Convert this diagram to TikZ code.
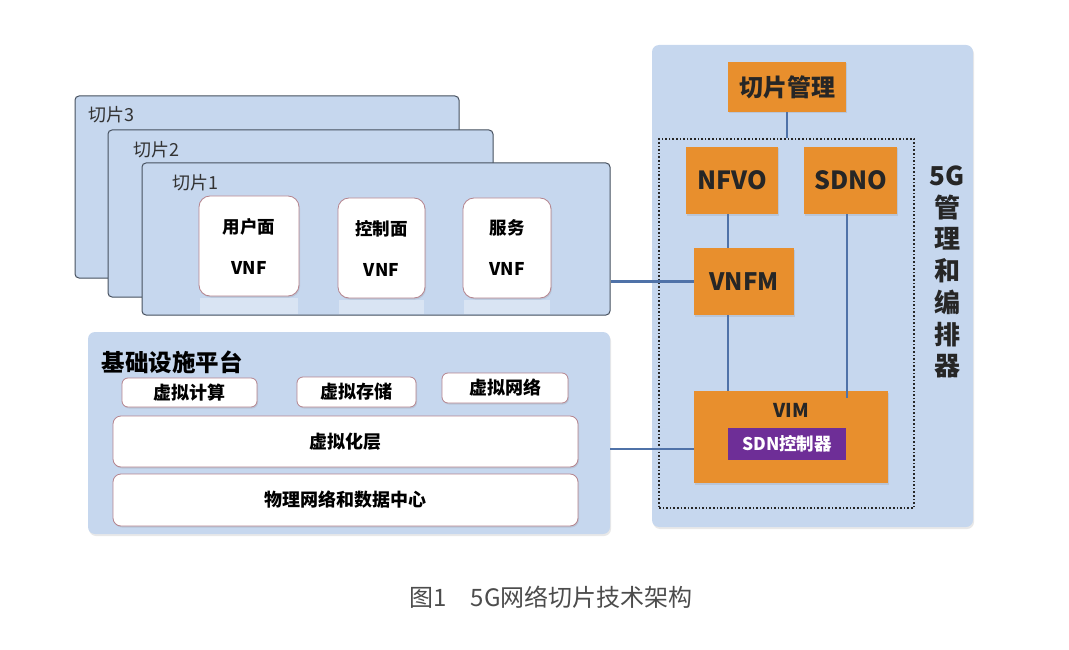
\documentclass[tikz,border=0pt]{standalone}
\usepackage{fontspec}
\setmainfont{Noto Sans CJK SC}
\usepackage{xcolor}
\usetikzlibrary{shadows}

\definecolor{panelblue}{HTML}{C6D7EE}
\definecolor{edgegray}{HTML}{46505E}
\definecolor{pinkedge}{HTML}{B5848E}
\definecolor{mgrorange}{HTML}{E88F2D}
\definecolor{sdnpurple}{HTML}{6E2E97}
\definecolor{linkblue}{HTML}{4F72A8}

\begin{document}
\begin{tikzpicture}[x=1pt, y=-1pt,
    slicebox/.style={draw=edgegray, line width=1pt, fill=panelblue, rounded corners=4pt, inner sep=0pt},
    slicelbl/.style={anchor=west, font=\fontsize{18}{20}\selectfont, text=black!80},
    panel/.style={fill=panelblue, rounded corners=7pt, inner sep=0pt,
        drop shadow={opacity=0.18, shadow xshift=1pt, shadow yshift=-2pt}},
    whitebox/.style={draw=pinkedge, line width=0.8pt, fill=white, rounded corners=6pt, inner sep=0pt,
        font=\bfseries\fontsize{18}{20}\selectfont,
        drop shadow={opacity=0.2, shadow xshift=1pt, shadow yshift=-1.5pt}},
    vnfbox/.style={whitebox, rounded corners=11pt, align=center,
        font=\bfseries\fontsize{17.5}{41}\selectfont},
    orangebox/.style={fill=mgrorange, inner sep=0pt, text=black!85,
        drop shadow={opacity=0.2, shadow xshift=1pt, shadow yshift=-1.5pt}},
    link/.style={draw=linkblue, line width=2.2pt}]

    \useasboundingbox (0,0) rectangle (1069,650);

    % 切片
    \node[slicebox, minimum width=384pt, minimum height=182pt] (slice3) at (267,187) {};
    \node[slicelbl] (slice3lbl) at (85,115) {切片3};
    \node[slicebox, minimum width=385pt, minimum height=167pt] (slice2) at (300.5,213.5) {};
    \node[slicelbl] (slice2lbl) at (130,150) {切片2};
    \node[slicebox, minimum width=468pt, minimum height=152pt] (slice1) at (376,239) {};
    \node[slicelbl] (slice1lbl) at (169,183) {切片1};

    % 倒影
    \fill[white, opacity=0.35] (200,298) rectangle (298,314);
    \fill[white, opacity=0.35] (339,300) rectangle (424,314);
    \fill[white, opacity=0.35] (464,300) rectangle (550,314);

    \node[vnfbox, minimum width=100pt, minimum height=100pt] (vnfuser) at (249,246) {用户面\\VNF};
    \node[vnfbox, minimum width=87pt, minimum height=100pt] (vnfctrl) at (381.5,248) {控制面\\VNF};
    \node[vnfbox, minimum width=88pt, minimum height=100pt] (vnfsvc) at (507,248) {服务\\VNF};

    % 基础设施平台
    \node[panel, minimum width=522pt, minimum height=202pt] (infra) at (349,433) {};
    \node[anchor=west, font=\bfseries\fontsize{23.5}{26}\selectfont] (infralbl) at (98,362) {基础设施平台};
    \node[whitebox, minimum width=135pt, minimum height=29pt] (vcomp) at (189.5,392.5) {虚拟计算};
    \node[whitebox, minimum width=119pt, minimum height=30pt] (vstor) at (356.5,392) {虚拟存储};
    \node[whitebox, minimum width=126pt, minimum height=30pt] (vnet) at (505,388) {虚拟网络};
    \node[whitebox, rounded corners=8pt, minimum width=465pt, minimum height=51pt] (vlayer) at (345.5,441.5) {虚拟化层};
    \node[whitebox, rounded corners=8pt, minimum width=465pt, minimum height=52pt] (phys) at (345.5,500) {物理网络和数据中心};

    % 5G管理和编排器
    \node[panel, minimum width=321pt, minimum height=482pt] (mano) at (812.5,286) {};
    \node[orangebox, minimum width=118pt, minimum height=50pt, font=\bfseries\fontsize{24}{26}\selectfont] (slicemgr) at (787,87) {切片管理};
    \node[draw=black!85, line width=1.6pt, dotted, minimum width=255pt, minimum height=369pt, inner sep=0pt] (orch) at (786.5,323.5) {};
    \node[orangebox, minimum width=92pt, minimum height=67pt, font=\bfseries\fontsize{25}{27}\selectfont] (nfvo) at (732,180.5) {NFVO};
    \node[orangebox, minimum width=93pt, minimum height=67pt, font=\bfseries\fontsize{25}{27}\selectfont] (sdno) at (850.5,180.5) {SDNO};
    \node[orangebox, minimum width=100pt, minimum height=67pt, font=\bfseries\fontsize{24}{26}\selectfont] (vnfm) at (744,281.5) {VNFM};
    \node[orangebox, minimum width=194pt, minimum height=92pt] (vim) at (791,437) {};
    \node[font=\bfseries\fontsize{19}{21}\selectfont, text=black!85] (vimlbl) at (791,410) {VIM};
    \node[fill=sdnpurple, text=white, minimum width=118pt, minimum height=32pt, inner sep=0pt, font=\bfseries\fontsize{17.5}{19}\selectfont] (sdnc) at (787,444) {SDN控制器};
    \node[align=center, font=\bfseries\fontsize{26}{31.7}\selectfont, text=black!85] (manolbl) at (947,272) {5G\\管\\理\\和\\编\\排\\器};

    % 连线
    \draw[link] (slicemgr.south) -- (slicemgr.south |- orch.north);
    \draw[link] ([xshift=-4pt]nfvo.south) -- ([xshift=-4pt]nfvo.south |- vnfm.north);
    \draw[link] ([xshift=-16pt]vnfm.south) -- ([xshift=-16pt]vnfm.south |- vim.north);
    \draw[link] ([xshift=-3.5pt]sdno.south) -- ([xshift=-3.5pt,yshift=-7pt]sdno.south |- vim.north);
    \draw[link] (vnfm.west -| slice1.east) -- (vnfm.west);
    \draw[link] ([yshift=-12pt]vim.west -| infra.east) -- ([yshift=-12pt]vim.west);

    % 图题
    \node[font=\fontsize{24}{26}\selectfont, text=black!70] (caption) at (551,597) {图1\hspace{1em}5G网络切片技术架构};
\end{tikzpicture}
\end{document}
